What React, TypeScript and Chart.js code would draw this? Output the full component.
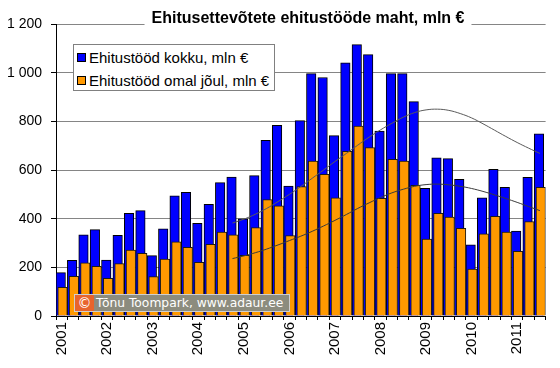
import React, { useEffect, useRef } from "react";
import { Chart, registerables } from "chart.js";

Chart.register(...registerables);

const TITLE = "Ehitusettevõtete ehitustööde maht, mln €";
const LEGEND_TOTAL = "Ehitustööd kokku, mln €";
const LEGEND_OWN = "Ehitustööd omal jõul, mln €";
const WATERMARK = "Tõnu Toompark, www.adaur.ee";

const periods = [
  "2001 Q1", "2001 Q2", "2001 Q3", "2001 Q4",
  "2002 Q1", "2002 Q2", "2002 Q3", "2002 Q4",
  "2003 Q1", "2003 Q2", "2003 Q3", "2003 Q4",
  "2004 Q1", "2004 Q2", "2004 Q3", "2004 Q4",
  "2005 Q1", "2005 Q2", "2005 Q3", "2005 Q4",
  "2006 Q1", "2006 Q2", "2006 Q3", "2006 Q4",
  "2007 Q1", "2007 Q2", "2007 Q3", "2007 Q4",
  "2008 Q1", "2008 Q2", "2008 Q3", "2008 Q4",
  "2009 Q1", "2009 Q2", "2009 Q3", "2009 Q4",
  "2010 Q1", "2010 Q2", "2010 Q3", "2010 Q4",
  "2011 Q1", "2011 Q2", "2011 Q3",
];

const totalWorks = [
  178, 229, 334, 355, 230, 332, 422, 433, 248, 358, 494, 508, 381, 459, 548, 571,
  399, 577, 722, 784, 534, 803, 996, 980, 741, 1040, 1115, 1074, 760, 996, 996, 881,
  525, 650, 647, 562, 292, 486, 603, 529, 349, 570, 749,
];

const ownWorks = [
  118, 163, 219, 204, 155, 215, 271, 258, 162, 234, 305, 282, 221, 295, 345, 334,
  249, 363, 478, 453, 330, 532, 637, 582, 486, 677, 780, 692, 484, 644, 637, 537,
  316, 422, 407, 360, 193, 338, 410, 345, 266, 388, 529,
];

const totalTrend = [
  null, null, null, null, null, null, null, null, null, null, null, null, null, null, null,
  382, 398, 418, 442, 470, 500, 532, 566, 600, 635, 668, 702, 735, 765, 792, 817,
  836, 847, 850, 845, 832, 814, 790, 764, 738, 713, 690, 668,
];

const ownTrend = [
  null, null, null, null, null, null, null, null, null, null, null, null, null, null, null,
  236, 247, 260, 275, 292, 310, 328, 348, 370, 393, 417, 442, 465, 487, 506, 521,
  533, 540, 542, 539, 533, 524, 512, 498, 483, 467, 450, 433,
];

const yTicks = [0, 200, 400, 600, 800, 1000, 1200];

const FONT = '"Liberation Sans", Arial, sans-serif';

const titlePlugin = {
  id: "titleBox",
  afterDraw(chart: any) {
    const ctx = chart.ctx;
    ctx.save();
    ctx.font = `bold 16px ${FONT}`;
    const w = ctx.measureText(TITLE).width;
    const cx = 308;
    ctx.fillStyle = "#ffffff";
    ctx.fillRect(cx - w / 2 - 7, 3, w + 14, 23);
    ctx.fillStyle = "#000000";
    ctx.textAlign = "center";
    ctx.textBaseline = "alphabetic";
    ctx.fillText(TITLE, cx, 23);
    ctx.restore();
  },
};

export default function App() {
  const ref = useRef<HTMLCanvasElement | null>(null);

  useEffect(() => {
    if (!ref.current) return;
    const n = periods.length;
    const hiddenAxis = (shift: number) => ({
      type: "linear",
      display: false,
      offset: false,
      bounds: "data",
      grid: { offset: false },
      min: -0.5 + shift,
      max: n - 0.5 + shift,
      ticks: { includeBounds: false, stepSize: 1 },
    });
    const chart = new Chart(ref.current, {
      type: "bar",
      data: {
        labels: periods,
        datasets: [
          {
            type: "bar",
            label: LEGEND_TOTAL,
            data: totalWorks.map((v, i) => ({ x: i, y: v })),
            xAxisID: "xb",
            grouped: false,
            backgroundColor: "#0000ff",
            borderColor: "#000000",
            borderWidth: 1,
            barThickness: 9.5,
            order: 3,
          } as any,
          {
            type: "bar",
            label: LEGEND_OWN,
            data: ownWorks.map((v, i) => ({ x: i, y: v })),
            xAxisID: "xo",
            grouped: false,
            backgroundColor: "#ff9900",
            borderColor: "#1a1a1a",
            borderWidth: 1,
            barThickness: 9.5,
            order: 2,
          } as any,
          {
            type: "line",
            label: "trend kokku",
            data: totalTrend,
            xAxisID: "x",
            borderColor: "#5a5a5a",
            borderWidth: 1,
            pointRadius: 0,
            tension: 0.4,
            fill: false,
            order: 1,
          } as any,
          {
            type: "line",
            label: "trend omal jõul",
            data: ownTrend,
            xAxisID: "x",
            borderColor: "#3a3a3a",
            borderWidth: 1,
            pointRadius: 0,
            tension: 0.4,
            fill: false,
            order: 1,
          } as any,
        ],
      },
      options: {
        responsive: false,
        animation: false,
        layout: { padding: { top: 24, right: 6, bottom: 0, left: 0 } },
        plugins: {
          legend: { display: false },
          tooltip: { enabled: false },
          title: { display: false },
        },
        scales: {
          x: {
            type: "category",
            offset: true,
            grid: {
              display: true,
              drawOnChartArea: false,
              drawTicks: true,
              offset: true,
              tickLength: 4,
              tickColor: "#000000",
            },
            border: { display: true, color: "#000000", width: 1 },
            ticks: {
              autoSkip: false,
              minRotation: 90,
              maxRotation: 90,
              padding: 2,
              color: "#000000",
              font: { family: FONT, size: 15 },
              callback: (_v: any, idx: number) =>
                periods[idx].endsWith("Q1") ? periods[idx].slice(0, 4) : "",
            },
            afterFit: (s: any) => {
              s.height = 52;
            },
          },
          xb: hiddenAxis(0.085),
          xo: hiddenAxis(-0.075),
          y: {
            type: "linear",
            min: 0,
            max: 1200,
            afterBuildTicks: (s: any) => {
              s.ticks = yTicks.map((v) => ({ value: v }));
            },
            grid: {
              color: "#858585",
              lineWidth: 1,
              drawTicks: true,
              tickLength: 5,
              tickColor: "#000000",
            },
            border: { display: true, color: "#000000", width: 1 },
            ticks: {
              padding: 9,
              color: "#000000",
              font: { family: FONT, size: 14 },
              callback: (v: any) =>
                String(v).replace(/\B(?=(\d{3})+(?!\d))/g, " "),
            },
            afterFit: (s: any) => {
              s.width = 56;
            },
          },
        },
      } as any,
      plugins: [titlePlugin],
    });
    return () => chart.destroy();
  }, []);

  const sq = (color: string): React.CSSProperties => ({
    position: "absolute",
    left: 3,
    width: 9,
    height: 9,
    boxSizing: "border-box",
    border: "1px solid #000",
    background: color,
  });

  return (
    <div
      style={{
        position: "fixed",
        left: 0,
        top: 0,
        width: 560,
        height: 368,
        background: "#ffffff",
      }}
    >
      <canvas ref={ref} width={560} height={368} style={{ display: "block" }} />
      <div
        style={{
          position: "absolute",
          left: 73,
          top: 44,
          width: 202,
          height: 47,
          boxSizing: "border-box",
          border: "1px solid #808080",
          background: "#ffffff",
          fontFamily: FONT,
          fontSize: 15,
          color: "#000",
        }}
      >
        <div style={{ position: "absolute", left: 0, top: 3, height: 20, width: 200 }}>
          <div style={{ ...sq("#0000ff"), top: 5 }} />
          <span style={{ position: "absolute", left: 15, top: 1, whiteSpace: "nowrap", lineHeight: "18px" }}>
            {LEGEND_TOTAL}
          </span>
        </div>
        <div style={{ position: "absolute", left: 0, top: 26, height: 20, width: 200 }}>
          <div style={{ ...sq("#ff9900"), top: 5 }} />
          <span style={{ position: "absolute", left: 15, top: 1, whiteSpace: "nowrap", lineHeight: "18px" }}>
            {LEGEND_OWN}
          </span>
        </div>
      </div>
      <div
        style={{
          position: "absolute",
          left: 74,
          top: 294,
          width: 216,
          height: 18,
          boxSizing: "border-box",
          border: "1px solid #cfcfcf",
          background: "#8c8c7e",
          fontFamily: '"DejaVu Sans", Verdana, sans-serif',
          fontSize: 12.3,
          color: "#ffffff",
          whiteSpace: "nowrap",
          overflow: "hidden",
        }}
      >
        <span
          style={{
            position: "absolute",
            left: 0,
            top: 0,
            width: 19,
            height: 16,
            background: "#e8642c",
            textAlign: "center",
            lineHeight: "16px",
            fontSize: 14,
          }}
        >
          ©
        </span>
        <span style={{ position: "absolute", left: 21, top: 0, lineHeight: "16px" }}>{WATERMARK}</span>
      </div>
    </div>
  );
}
